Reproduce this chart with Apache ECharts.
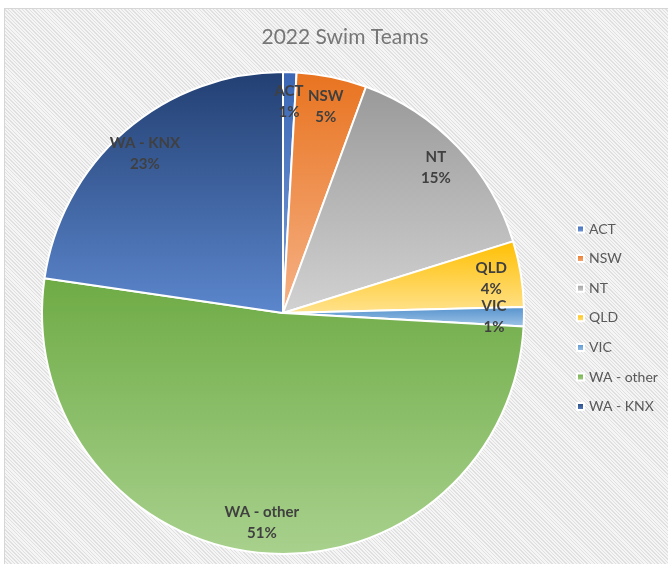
<!DOCTYPE html>
<html>
<head>
<meta charset="utf-8">
<script src="https://cdn.jsdelivr.net/npm/echarts@6/dist/echarts.min.js"></script>
<style>
  html, body { margin: 0; padding: 0; background: #ffffff; }
  #frame {
    position: absolute; left: 4px; top: 8px; width: 664px; height: 556px;
    box-sizing: border-box; border-left: 1px solid #d6d6d6; border-top: 1px solid #d6d6d6;
    background-color: #f1f1f1;
    background-image: repeating-linear-gradient(45deg, #f5f5f5 0px, #f5f5f5 1.5px, #e0e0e0 1.5px, #e0e0e0 2.5px);
  }
  #chart { position: absolute; left: 0; top: 0; width: 668px; height: 564px; }
</style>
</head>
<body>
<div id="frame"></div>
<div id="chart"></div>
<script>
// Data
const categories = ['ACT', 'NSW', 'NT', 'QLD', 'VIC', 'WA - other', 'WA - KNX'];
const values = [0.9, 4.7, 14.6, 4.4, 1.3, 51.4, 22.7];
const titleText = '2022 Swim Teams';

// Styles (top colour -> bottom colour of each slice's gradient)
const gradTop = ['#3a66b4', '#e8731f', '#999999', '#ffbf00', '#5290cc', '#6eab45', '#223f72'];
const gradBottom = ['#7aa0dc', '#f6b287', '#d2d2d2', '#ffe28e', '#a2c6e8', '#a8d18d', '#5c87cd'];

function grad(i) {
  return new echarts.graphic.LinearGradient(0, 0, 0, 1, [
    { offset: 0, color: gradTop[i] },
    { offset: 1, color: gradBottom[i] }
  ]);
}

const mainData = categories.map((c, i) => ({
  name: c, value: values[i],
  itemStyle: { color: grad(i) }
}));
const labelData = categories.map((c, i) => ({ name: c, value: values[i] }));

const chart = echarts.init(document.getElementById('chart'), null, { renderer: 'canvas' });
chart.setOption({
  animation: false,
  backgroundColor: 'transparent',
  title: {
    text: titleText,
    left: 340, top: 22,
    textAlign: 'center',
    textStyle: { fontFamily: 'Lato', fontSize: 21, fontWeight: 'normal', color: '#767676' }
  },
  legend: {
    orient: 'vertical',
    left: 571, top: 217,
    itemWidth: 7, itemHeight: 7, itemGap: 15.6,
    icon: 'rect',
    data: categories,
    textStyle: { fontFamily: 'Lato', fontSize: 14, color: '#595959', lineHeight: 14 },
    selectedMode: false
  },
  series: [
    {
      type: 'pie',
      center: [283, 313],
      radius: [0, 241],
      startAngle: 90,
      clockwise: true,
      data: mainData,
      silent: true,
      itemStyle: { borderColor: '#ffffff', borderWidth: 2 },
      label: { show: false },
      labelLine: { show: false },
      emphasis: { disabled: true }
    },
    {
      type: 'pie',
      center: [283, 313],
      radius: [175, 241],
      startAngle: 90,
      clockwise: true,
      percentPrecision: 0,
      avoidLabelOverlap: false,
      minShowLabelAngle: 0,
      data: labelData,
      silent: true,
      z: 5,
      itemStyle: { color: 'rgba(0,0,0,0)', borderWidth: 0 },
      label: {
        show: true,
        position: 'inside',
        formatter: '{b}\n{d}%',
        fontFamily: 'Lato', fontSize: 15, fontWeight: 'bold',
        color: '#404040', lineHeight: 21, align: 'center'
      },
      labelLayout: { hideOverlap: false },
      labelLine: { show: false },
      emphasis: { disabled: true }
    }
  ]
});
</script>
</body>
</html>
